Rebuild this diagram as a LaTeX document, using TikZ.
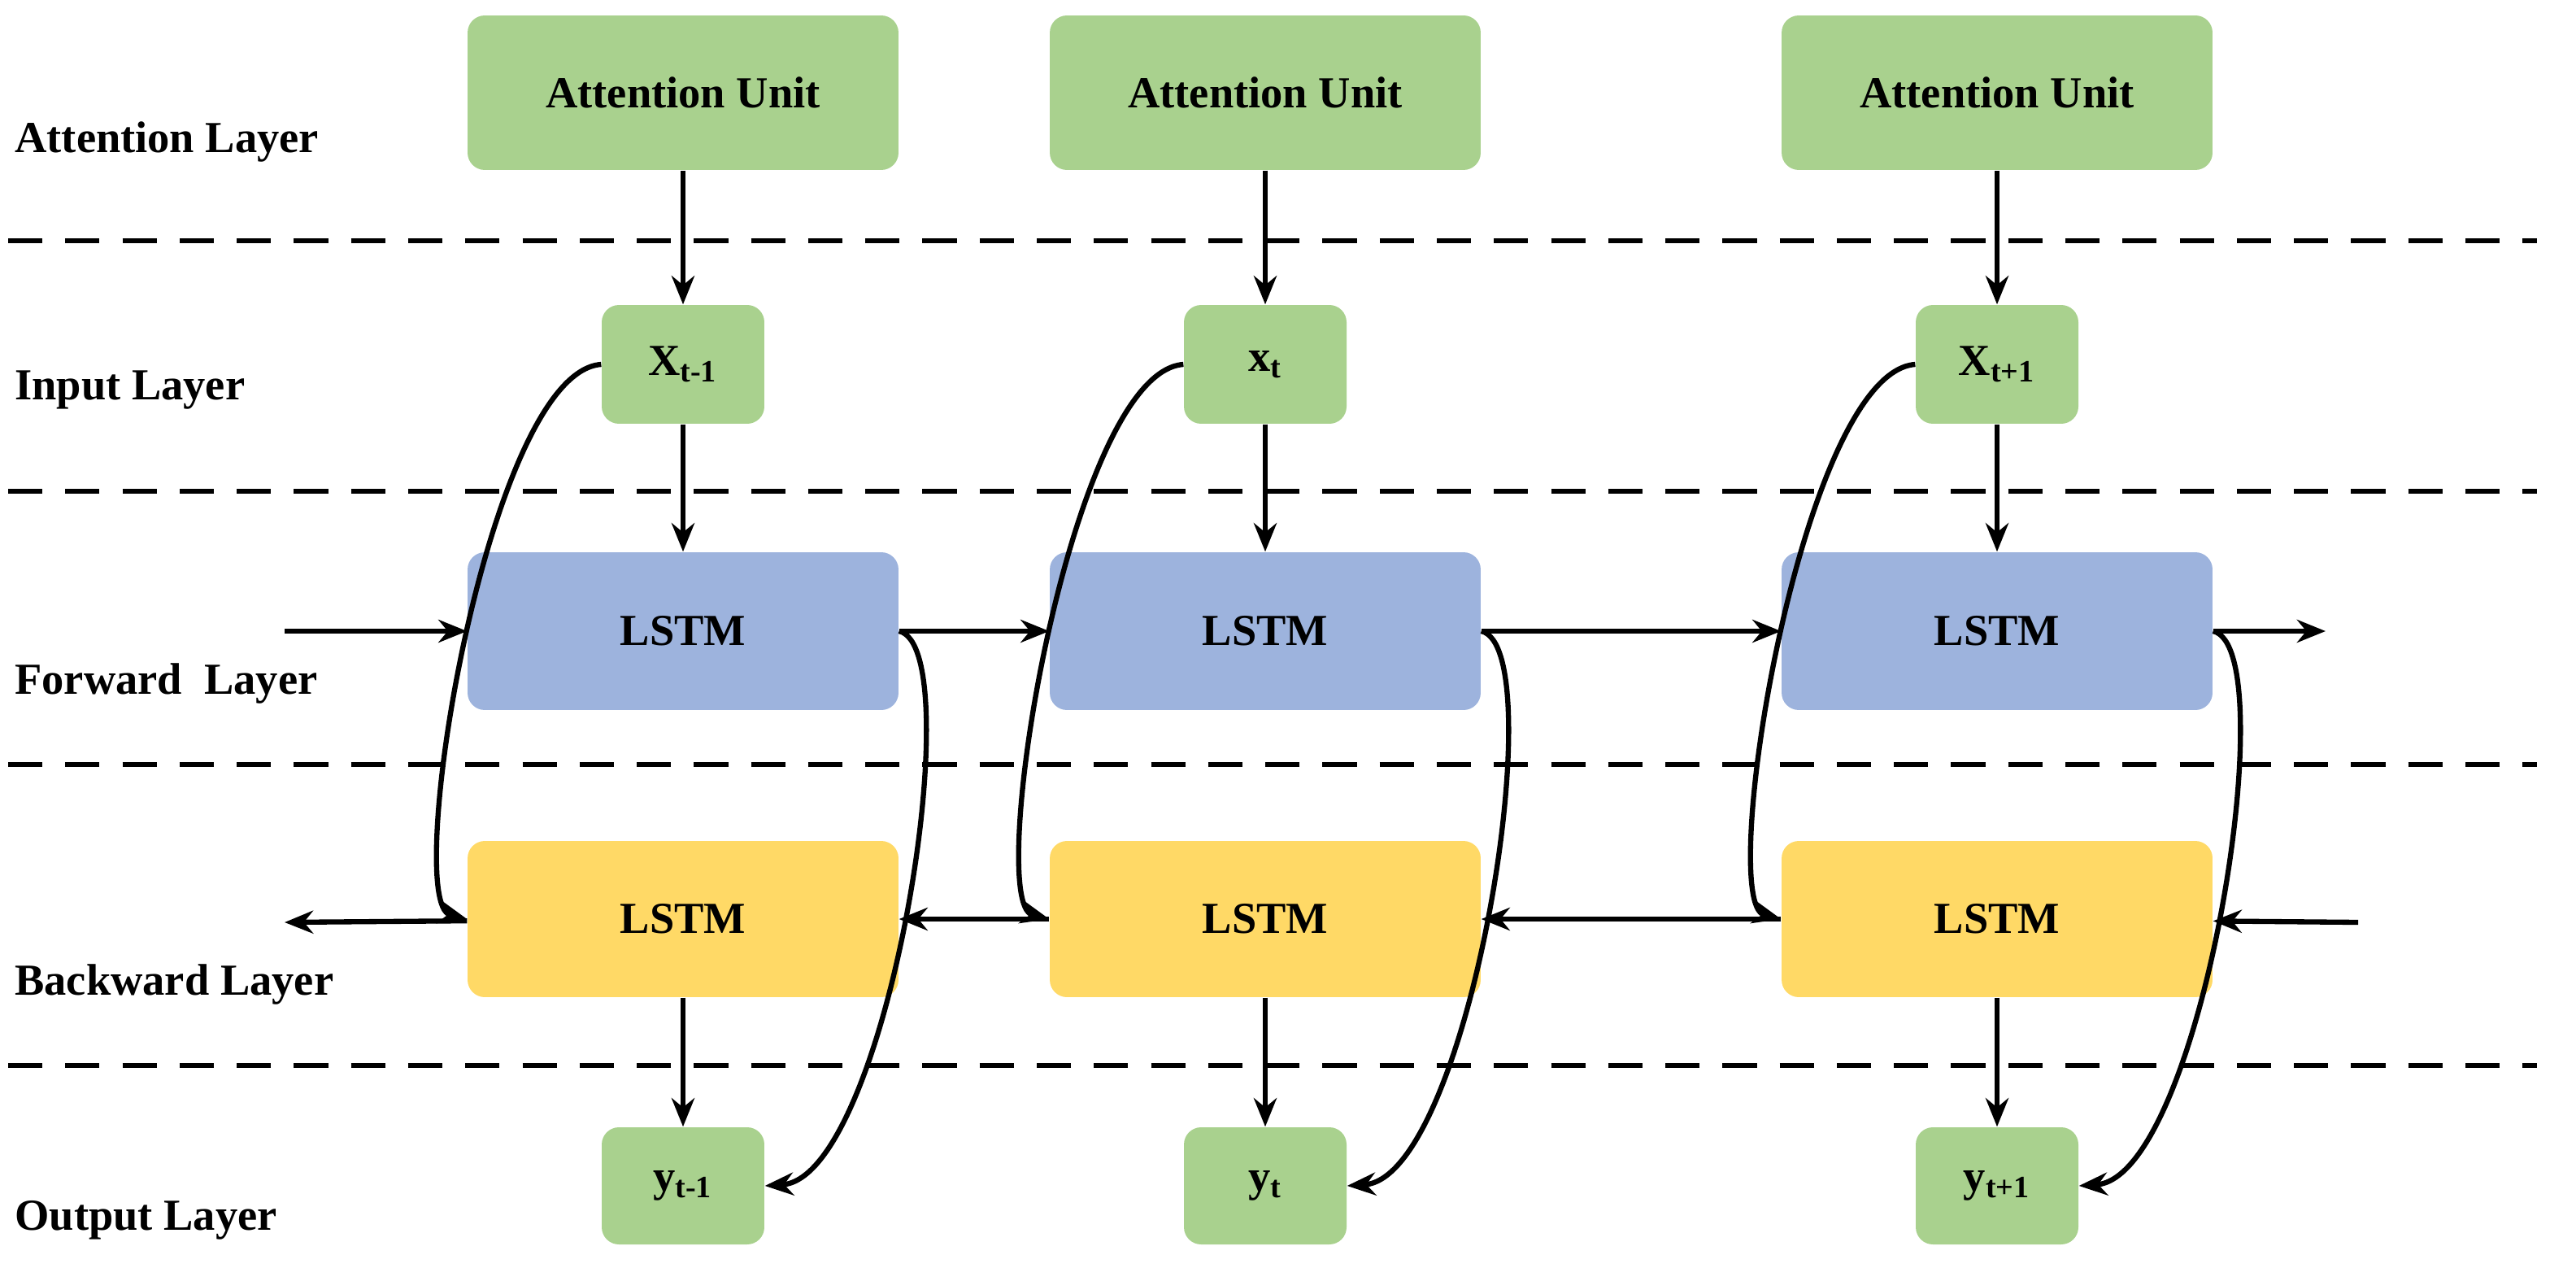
\documentclass[tikz,border=0pt]{standalone}
\usepackage{fontspec}
\setmainfont{Liberation Serif}
\usetikzlibrary{arrows.meta}
\definecolor{gr}{HTML}{A9D18E}
\definecolor{bl}{HTML}{9DB3DD}
\definecolor{ye}{HTML}{FFD966}
\begin{document}
\begin{tikzpicture}[x=0.02cm,y=-0.02cm,
 box/.style={rounded corners=6pt,draw=none,font=\fontsize{15.5}{18}\selectfont\bfseries,inner sep=0pt},
 ar/.style={-{Stealth[length=10pt,width=8pt]},line width=1.8pt},
 dl/.style={dashed,line width=1.8pt,dash pattern=on 12pt off 8pt},
 lab/.style={anchor=west,font=\fontsize{15.5}{18}\selectfont\bfseries}]
\useasboundingbox (0,0) rectangle (1584,787);
\foreach \y in {148,302,470,655} \draw[dl] (5,\y) -- (1560,\y);
\node[lab] (l1) at (3,87) {Attention Layer};
\node[lab] (l2) at (3,240) {Input Layer};
\node[lab] (l3) at (3,420) {Forward\ \ Layer};
\node[lab] (l4) at (3,605) {Backward Layer};
\node[lab] (l5) at (3,750) {Output Layer};
\foreach \i/\xa/\xi/\lab/\out in {1/420/420/X\textsubscript{t-1}/y\textsubscript{t-1},2/778/778/x\textsubscript{t}/y\textsubscript{t},3/1228/1228/X\textsubscript{t+1}/y\textsubscript{t+1}}{
 \node[box,fill=gr,minimum width=5.3cm,minimum height=1.9cm] (a\i) at (\xa,57) {Attention Unit};
 \node[box,fill=gr,minimum width=2cm,minimum height=1.46cm] (x\i) at (\xi,224) {\lab};
 \node[box,fill=bl,minimum width=5.3cm,minimum height=1.94cm] (f\i) at (\xa,388) {LSTM};
 \node[box,fill=ye,minimum width=5.3cm,minimum height=1.92cm] (b\i) at (\xa,565) {LSTM};
 \node[box,fill=gr,minimum width=2cm,minimum height=1.44cm] (o\i) at (\xi,729) {\out};
 \draw[ar] (a\i) -- (x\i);
 \draw[ar] (x\i) -- (f\i);
 \draw[ar] (b\i) -- (o\i);
 \draw[ar] (x\i.west) .. controls +(-70,5) and +(-40,-10) .. (b\i.west);
 \draw[ar] (f\i.east) .. controls +(45,10) and +(75,-5) .. (o\i.east);
}
\coordinate (fi) at (175,388); \coordinate (fo) at (1430,388);
\coordinate (bi) at (1450,567); \coordinate (bo) at (175,567);
\draw[ar] (fi) -- (f1);
\draw[ar] (f1) -- (f2);
\draw[ar] (f2) -- (f3);
\draw[ar] (f3) -- (fo);
\draw[ar] (bi) -- (b3);
\draw[ar] (b3) -- (b2);
\draw[ar] (b2) -- (b1);
\draw[ar] (b1) -- (bo);
\end{tikzpicture}
\end{document}
